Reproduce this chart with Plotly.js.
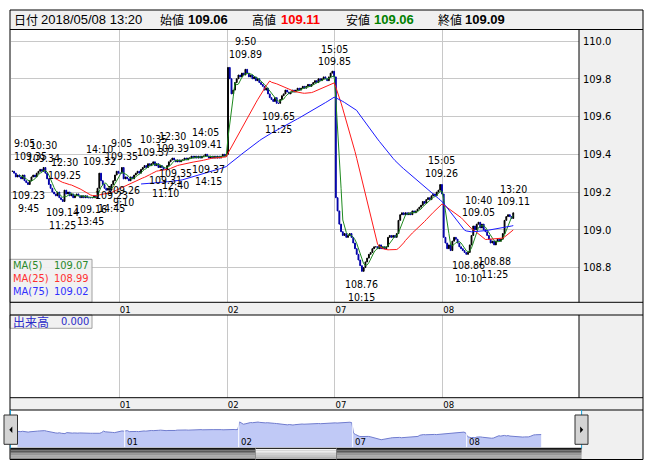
<!DOCTYPE html>
<html><head><meta charset="utf-8">
<script src="https://cdn.plot.ly/plotly-3.0.1.min.js"></script>
<style>html,body{margin:0;padding:0;background:#fff}#chart{width:652px;height:469px}</style>
</head><body><div id="chart"></div>
<script>
// ---------- data ----------
const dayLabels = ["01", "02", "07", "08"];
const barsPerDay = 62;
const day1 = [109.31,109.30,109.28,109.29, 109.28,109.27,109.29,109.26,109.25,109.24,
  109.26,109.28,109.29,109.28,109.30,109.31,109.32,109.31, 109.33,
  109.30,109.27,109.24,109.22,109.20,109.19,109.18,109.20,109.17,109.16, 109.15,
  109.21,109.19,109.20,109.18,109.19,109.17,109.18,109.19,109.18,109.17,109.18,109.17,109.18,109.17,109.17,
  109.17, 109.17,109.18,109.17,109.22, 109.30, 109.26,109.24,109.22,109.21,109.22,109.21, 109.24,
  109.26,109.29,109.31,109.30];
const day01 = [109.30,109.33,109.27, 109.28,109.27,109.26,109.28,109.27,109.29,
  109.30,109.31,109.30,109.32, 109.33,109.34,109.33,109.35,109.34,109.35, 109.36,
  109.34,109.35,109.33,109.34,109.33,109.32, 109.32, 109.34,109.36,109.37, 109.38,109.37,109.36,
  109.37,109.36,109.37,109.37,109.38,109.37,109.38,109.38,
  109.39,109.38,109.39,109.38,109.39,109.38,109.39,109.39, 109.40,
  109.39,109.38,109.39,109.38,109.39,109.38,109.39,109.38,109.39,109.40,109.39,109.40];
const day02 = [109.86,109.80,109.72,109.74,109.78,109.80,109.82,109.81,109.83,109.82,109.85,
  109.83,109.81,109.82,109.80,109.81,109.79,109.80,109.78,109.77,
  109.76,109.74,109.75,109.72,109.70, 109.69,109.68,109.70,109.67, 109.67,
  109.69,109.71,109.72,109.74,109.73,109.72,109.73,109.74,
  109.73,109.74,109.75,109.74,109.75,109.76,109.75,109.76,109.77,109.76,109.77,
  109.78,109.79,109.78,109.80,109.79,109.80,109.81,109.80,109.79,
  109.81,109.83,109.84,109.81];
const day07 = [109.17,109.10,109.03, 108.99,108.97,108.98,108.96,108.97,108.98,108.96,
  108.93,108.90,108.87,108.84,108.81, 108.78,
  108.80,108.83,108.85,108.87,108.88,108.90,108.91,
  108.91,108.90,108.92,108.90,108.91,108.90,108.91,
  108.96,108.97,108.96,108.97,108.96,108.98,
  109.05,109.08,109.09,109.08,109.09,109.08,
  109.09,109.08,109.10,109.09,109.10,109.11,109.12,
  109.13,109.15,109.14,109.16,109.17,109.16,109.18,
  109.19,109.18,109.20,109.21,109.24,109.19];
const day08 = [108.96,108.93,108.90,108.92,108.89, 108.94,108.96,108.95,108.93,
  108.91,108.90,108.89,108.88,108.87, 108.88,
  108.92,108.97,109.02,109.00,109.03, 109.04,
  109.01,109.03,109.00,108.99, 108.97,108.95,108.93,108.94, 108.92,
  108.94,108.95,108.94,108.95, 108.98,109.05,109.07, 109.08,109.07,109.06,109.09];

// high / low markers: global bar index, time, price, kind
const pivotBar   = [1, 9, 18, 29, 30, 45, 50, 57,   63, 64, 81, 88, 92, 94, 111, 113,   134, 153, 185,   201, 247,   262, 268, 277, 288];
const pivotTime  = ["9:05","9:45","10:30","11:25","12:30","13:45","14:10","14:45",
                    "9:05","9:10","10:35","11:10","12:30","12:40","14:05","14:15",
                    "9:50","11:25","15:05", "10:15","15:05", "10:10","10:40","11:25","13:20"];
const pivotPrice = [109.35,109.23,109.34,109.14,109.25,109.16,109.32,109.23,
                    109.35,109.26,109.37,109.31,109.39,109.35,109.41,109.37,
                    109.89,109.65,109.85, 108.76,109.26, 108.86,109.05,108.88,109.11];
const pivotKind  = ["H","L","H","L","H","L","H","L", "H","L","H","L","H","L","H","L",
                    "H","L","H", "L","H", "L","H","L","H"];

const maPeriods = [5, 25, 75];
const maNames = ["MA(5)", "MA(25)", "MA(75)"];
const maLegendValues = ["109.07", "108.99", "109.02"];
const maColors = ["#1f8a1f", "#ff1a1a", "#1a1aff"];
const maTextColors = ["#2a8a2a", "#ff3030", "#3030ff"];

const priceTicks = [108.8, 109.0, 109.2, 109.4, 109.6, 109.8, 110.0];
const headerDate = "2018/05/08 13:20";
const headerOpen = "109.06", headerHigh = "109.11", headerLow = "109.06", headerClose = "109.09";
const volumeLabel = "出来高", volumeValue = "0.000";

// ---------- build ----------
const closes = [].concat(day1, day01, day02, day07, day08);
const idx = closes.map((_, i) => i);
const opens = closes.map((c, i) => i === 0 ? c : closes[i - 1]);
const highs = closes.map((c, i) => Math.max(c, opens[i]));
const lows = closes.map((c, i) => Math.min(c, opens[i]));
const boundaries = dayLabels.map((_, k) => (k + 1) * barsPerDay - 0.5);

function sma(arr, n) {
  return arr.map((_, i) => {
    if (i < n - 1) return null;
    let s = 0; for (let j = i - n + 1; j <= i; j++) s += arr[j];
    return s / n;
  });
}

const NARROW = "'Liberation Sans Narrow', 'Arial Narrow', 'DejaVu Sans Condensed', sans-serif";
const HEAD = "'Liberation Sans', Arial, 'Noto Sans CJK JP', sans-serif";
const CJK = "'Noto Sans CJK JP', sans-serif";
const W = 652, H = 469;
const px = x => x / W, py = y => 1 - y / H;

const traces = [];
traces.push({
  type: 'candlestick', x: idx, open: opens, high: highs, low: lows, close: closes,
  xaxis: 'x', yaxis: 'y', whiskerwidth: 0, hoverinfo: 'skip',
  increasing: {line: {color: '#000000', width: 1}, fillcolor: '#000000'},
  decreasing: {line: {color: '#0000a8', width: 1}, fillcolor: '#0000a8'}
});
maPeriods.forEach((n, k) => {
  traces.push({type: 'scatter', mode: 'lines', x: idx, y: sma(closes, n), xaxis: 'x', yaxis: 'y',
    line: {color: maColors[k], width: 1}, hoverinfo: 'skip'});
});
traces.push({type: 'scatter', mode: 'lines', x: [], y: [], xaxis: 'x2', yaxis: 'y2'});
traces.push({type: 'scatter', mode: 'lines', x: idx, y: closes, xaxis: 'x3', yaxis: 'y3',
  fill: 'tozeroy', fillcolor: 'rgb(192,201,246)', line: {color: 'rgb(112,124,206)', width: 1}, hoverinfo: 'skip'});

const annotations = [];
pivotBar.forEach((b, k) => {
  const hi = pivotKind[k] === 'H';
  const base = {xref: 'x', yref: 'y', x: b, y: pivotPrice[k], showarrow: false,
    font: {family: NARROW, size: 10.5, color: '#000'}, xanchor: 'center'};
  if (k === 0) { base.xanchor = 'left'; base.xshift = -2; }
  annotations.push(Object.assign({}, base, {text: pivotPrice[k].toFixed(2),
    yanchor: hi ? 'bottom' : 'top', yshift: hi ? 0 : -1}));
  annotations.push(Object.assign({}, base, {text: pivotTime[k],
    yanchor: hi ? 'bottom' : 'top', yshift: hi ? 12.5 : -13.5}));
});
// header
const hdr = [
  ["日付", 12, '#000', false, CJK, 12], [headerDate, 39, '#000', false, HEAD, 13],
  ["始値", 158, '#000', false, CJK, 12], [headerOpen, 186, '#000', true, HEAD, 13],
  ["高値", 250, '#000', false, CJK, 12], [headerHigh, 279, '#ff0000', true, HEAD, 13],
  ["安値", 344, '#000', false, CJK, 12], [headerLow, 372, '#008000', true, HEAD, 13],
  ["終値", 436, '#000', false, CJK, 12], [headerClose, 463, '#000', true, HEAD, 13]
];
hdr.forEach(h => annotations.push({xref: 'paper', yref: 'paper', x: px(h[1]), y: py(20), xanchor: 'left', yanchor: 'middle',
  showarrow: false, text: h[3] ? '<b>' + h[0] + '</b>' : h[0], font: {family: h[4], size: h[5], color: h[2]}}));
// MA legend
maNames.forEach((nm, k) => {
  const yy = 265.5 + k * 13;
  annotations.push({xref: 'paper', yref: 'paper', x: px(11), y: py(yy), xanchor: 'left', yanchor: 'middle', showarrow: false,
    text: nm, font: {family: NARROW, size: 11, color: maTextColors[k]}});
  annotations.push({xref: 'paper', yref: 'paper', x: px(91), y: py(yy), xanchor: 'right', yanchor: 'middle', showarrow: false,
    text: maLegendValues[k], font: {family: NARROW, size: 11, color: maTextColors[k]}});
});
annotations.push({xref: 'paper', yref: 'paper', x: px(11), y: py(321.5), xanchor: 'left', yanchor: 'middle', showarrow: false,
  text: volumeLabel, font: {family: CJK, size: 12, color: '#2a2ac8'}});
annotations.push({xref: 'paper', yref: 'paper', x: px(91), y: py(321.5), xanchor: 'right', yanchor: 'middle', showarrow: false,
  text: volumeValue, font: {family: NARROW, size: 11, color: '#2a2ac8'}});
// navigator day labels
dayLabels.forEach((d, k) => annotations.push({xref: 'x3', yref: 'paper', x: boundaries[k], y: py(441.5), xanchor: 'left',
  yanchor: 'middle', showarrow: false, text: d, font: {family: NARROW, size: 9.5, color: '#000'}}));

const shapes = [];
function rect(x0, y0, x1, y1, fill, line, layer) {
  shapes.push({type: 'rect', xref: 'paper', yref: 'paper', x0: px(x0), x1: px(x1), y0: py(y1), y1: py(y0),
    fillcolor: fill || 'rgba(0,0,0,0)', line: {width: line ? 1 : 0, color: line || 'rgba(0,0,0,0)'}, layer: layer || 'below'});
}
function hline(x0, x1, y, color) {
  shapes.push({type: 'line', xref: 'paper', yref: 'paper', x0: px(x0), x1: px(x1), y0: py(y), y1: py(y),
    line: {color: color || '#000', width: 1}, layer: 'above'});
}
function vline(x, y0, y1, color) {
  shapes.push({type: 'line', xref: 'paper', yref: 'paper', x0: px(x), x1: px(x), y0: py(y0), y1: py(y1),
    line: {color: color || '#000', width: 1}, layer: 'above'});
}
rect(10, 10, 643, 29.5, '#f0f0f0');
rect(579, 29.5, 643, 302.3, '#f0f0f0');
rect(10, 302.3, 643, 315, '#f0f0f0');
rect(579, 315, 643, 397.7, '#f0f0f0');
rect(10, 397.7, 643, 410, '#f0f0f0');
rect(581.6, 410, 643, 459.5, '#f0f0f0');
// navigator: thin white gaps at day changes
boundaries.forEach(b => shapes.push({type: 'line', xref: 'x3', yref: 'paper', x0: b, x1: b, y0: py(447.3), y1: py(418),
  line: {color: '#ffffff', width: 1}, layer: 'above'}));
// scroll bar (stepped gradient)
const sbCols = ['#3c3c3c', '#5a5a5a', '#7a7a7a', '#969696', '#a8a8a8', '#8a8a8a'];
sbCols.forEach((c, k) => rect(10.4, 448.3 + k * 11 / 6, 581.6, 448.3 + (k + 1) * 11 / 6, c));
const thCols = ['#f4f4f4', '#ececec', '#e0e0e0', '#d2d2d2', '#c4c4c4', '#b4b4b4'];
thCols.forEach((c, k) => rect(255.5, 448.3 + k * 11 / 6, 336.5, 448.3 + (k + 1) * 11 / 6, c));
// MA legend and volume boxes
rect(10, 259.3, 92, 302.3, 'rgba(240,240,240,0.92)', '#a0a0a0', 'above');
rect(10, 315, 92, 328.3, 'rgba(240,240,240,0.92)', '#a0a0a0', 'above');
// frame lines
hline(10, 643, 10); hline(10, 643, 29.5);
hline(10, 643, 302.3); hline(10, 643, 315);
hline(10, 643, 397.7); hline(10, 643, 410);
hline(10.4, 581.6, 448.3); hline(10, 643, 459.5);
vline(10, 10, 459.5); vline(643, 10, 459.5);
vline(579, 29.5, 302.3); vline(579, 315, 397.7);
vline(255.5, 448.3, 459.5, '#909090'); vline(336.5, 448.3, 459.5, '#808080');
vline(10.4, 410, 448.3, '#1aa0d8'); vline(581.6, 410, 448.3, '#1aa0d8');
// navigator buttons
rect(4, 415, 17.5, 444.3, '#d4d4d4', '#303030', 'above');
rect(575, 415, 588, 444.3, '#d4d4d4', '#303030', 'above');
shapes.push({type: 'path', xref: 'paper', yref: 'paper', layer: 'above', fillcolor: '#000', line: {width: 0},
  path: `M ${px(12.3)} ${py(426.5)} L ${px(9.3)} ${py(429.7)} L ${px(12.3)} ${py(432.9)} Z`});
shapes.push({type: 'path', xref: 'paper', yref: 'paper', layer: 'above', fillcolor: '#000', line: {width: 0},
  path: `M ${px(580.2)} ${py(426.5)} L ${px(583.2)} ${py(429.7)} L ${px(580.2)} ${py(432.9)} Z`});

const xMainDomain = [px(10.5), px(579)];
const xRange = [-1.06, 325.8];
const layout = {
  width: W, height: H, margin: {l: 0, r: 0, t: 0, b: 0},
  paper_bgcolor: '#ffffff', plot_bgcolor: '#ffffff', showlegend: false,
  font: {family: NARROW, size: 11, color: '#000'},
  xaxis: {domain: xMainDomain, range: xRange, anchor: 'y', tickmode: 'array', tickvals: boundaries, ticktext: dayLabels,
    showgrid: true, gridcolor: '#c8c8c8', gridwidth: 1, zeroline: false, showline: false, ticks: '',
    tickfont: {family: NARROW, size: 9.5, color: '#000'}, ticklabelshift: 6, ticklabelstandoff: 0,
    rangeslider: {visible: false}, fixedrange: true},
  yaxis: {domain: [py(302.3), py(29.5)], range: [108.616, 110.061], side: 'right', anchor: 'x',
    tickmode: 'array', tickvals: priceTicks, ticktext: priceTicks.map(v => v.toFixed(1)),
    showgrid: true, gridcolor: '#c8c8c8', zeroline: false, showline: false, ticks: '',
    tickfont: {family: NARROW, size: 11, color: '#000'}, ticklabelstandoff: 3, fixedrange: true},
  xaxis2: {domain: xMainDomain, range: xRange, anchor: 'y2', tickmode: 'array', tickvals: boundaries, ticktext: dayLabels,
    showgrid: true, gridcolor: '#c8c8c8', zeroline: false, showline: false, ticks: '',
    tickfont: {family: NARROW, size: 9.5, color: '#000'}, ticklabelshift: 6, ticklabelstandoff: 0, fixedrange: true},
  yaxis2: {domain: [py(397.7), py(315)], range: [0, 1], anchor: 'x2', showgrid: false, zeroline: false,
    showticklabels: false, ticks: '', fixedrange: true},
  xaxis3: {domain: [px(17.5), px(575)], range: [3.2, 306.4], anchor: 'y3', showgrid: false, zeroline: false,
    showticklabels: false, ticks: '', fixedrange: true},
  yaxis3: {domain: [py(447.3), py(410)], range: [108.32, 110.58], anchor: 'x3', showgrid: false, zeroline: false,
    showticklabels: false, ticks: '', fixedrange: true},
  annotations: annotations, shapes: shapes
};
Plotly.newPlot('chart', traces, layout, {displayModeBar: false, staticPlot: true});
</script>
</body></html>
